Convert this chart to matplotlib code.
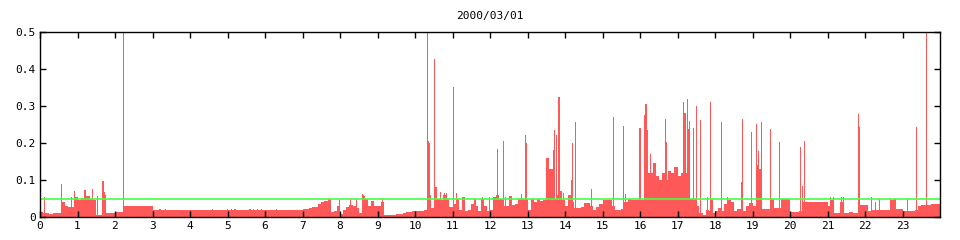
import numpy as np
import matplotlib
matplotlib.use('Agg')
import matplotlib.pyplot as plt

# 5-minute averages, 12 values per hour
hourly_bins = [
    [0.0135, 0.012, 0.012, 0.009, 0.010, 0.011, 0.011, 0.040, 0.030, 0.026, 0.026, 0.055],  # 0
    [0.045, 0.052, 0.058, 0.058, 0.050, 0.045, 0.006, 0.006, 0.060, 0.011, 0.011, 0.011],  # 1
    [0.0135, 0.0135, 0.0135, 0.030, 0.030, 0.030, 0.030, 0.030, 0.030, 0.030, 0.030, 0.030],  # 2
    [0.019] * 12,  # 3
    [0.019] * 12,  # 4
    [0.019] * 12,  # 5
    [0.019] * 12,  # 6
    [0.0216, 0.022, 0.024, 0.028, 0.028, 0.034, 0.040, 0.042, 0.048, 0.0135, 0.016, 0.030],  # 7
    [0.009, 0.020, 0.026, 0.032, 0.030, 0.025, 0.010, 0.058, 0.050, 0.030, 0.044, 0.030],  # 8
    [0.030, 0.040, 0.005, 0.005, 0.005, 0.005, 0.008, 0.008, 0.011, 0.0135, 0.0135, 0.015],  # 9
    [0.016, 0.016, 0.017, 0.018, 0.012, 0.025, 0.050, 0.050, 0.045, 0.060, 0.050, 0.028],  # 10
    [0.035, 0.050, 0.020, 0.053, 0.015, 0.019, 0.035, 0.030, 0.015, 0.050, 0.030, 0.015],  # 11
    [0.019, 0.055, 0.060, 0.050, 0.030, 0.030, 0.057, 0.032, 0.035, 0.050, 0.050, 0.050],  # 12
    [0.019, 0.050, 0.040, 0.050, 0.043, 0.046, 0.160, 0.130, 0.050, 0.060, 0.070, 0.045],  # 13
    [0.030, 0.060, 0.040, 0.023, 0.025, 0.028, 0.038, 0.039, 0.030, 0.020, 0.028, 0.035],  # 14
    [0.045, 0.046, 0.046, 0.030, 0.019, 0.020, 0.022, 0.040, 0.050, 0.046, 0.046, 0.046],  # 15
    [0.046, 0.046, 0.120, 0.120, 0.146, 0.110, 0.100, 0.120, 0.100, 0.125, 0.120, 0.135],  # 16
    [0.110, 0.120, 0.120, 0.120, 0.050, 0.050, 0.030, 0.010, 0.006, 0.020, 0.015, 0.010],  # 17
    [0.015, 0.025, 0.015, 0.035, 0.045, 0.040, 0.017, 0.021, 0.022, 0.016, 0.030, 0.037],  # 18
    [0.030, 0.140, 0.130, 0.022, 0.022, 0.022, 0.049, 0.023, 0.023, 0.050, 0.049, 0.049],  # 19
    [0.0135, 0.0135, 0.0135, 0.015, 0.040, 0.040, 0.040, 0.040, 0.040, 0.040, 0.040, 0.040],  # 20
    [0.030, 0.046, 0.011, 0.011, 0.040, 0.011, 0.011, 0.0135, 0.011, 0.011, 0.032, 0.032],  # 21
    [0.032, 0.016, 0.019, 0.019, 0.019, 0.019, 0.019, 0.019, 0.046, 0.046, 0.022, 0.022],  # 22
    [0.016, 0.016, 0.016, 0.016, 0.020, 0.030, 0.032, 0.032, 0.032, 0.034, 0.036, 0.036],  # 23
]

# short peaks (hour, value)
spike_hours = [
    0.12, 0.573, 0.845, 0.91, 1.2, 1.4, 1.53, 1.68, 1.72, 2.22,
    3.2, 3.35, 4.6, 5.0, 5.1, 5.2, 5.6, 5.7, 5.8, 5.9, 6.3,
    7.69, 7.98, 8.27, 8.45, 8.59, 8.63, 9.13,
    10.33, 10.355, 10.38, 10.4, 10.53, 10.56, 10.68, 10.78, 10.83,
    11.02, 11.1, 11.6, 11.8, 11.98,
    12.19, 12.36, 12.42, 12.85, 12.95, 12.975,
    13.7, 13.73, 13.78, 13.84, 13.97,
    14.18, 14.2, 14.28, 14.7,
    15.29, 15.56, 15.62,
    16.0, 16.13, 16.16, 16.19, 16.28, 16.68, 16.71,
    17.17, 17.2, 17.26, 17.29, 17.32, 17.42, 17.5, 17.62, 17.81, 17.89, 17.92,
    18.17, 18.33, 18.71, 18.73, 18.97,
    19.11, 19.15, 19.23, 19.48, 19.72,
    20.28, 20.33, 20.38,
    21.07, 21.17, 21.38, 21.42, 21.82, 21.85,
    22.17, 22.28, 22.38, 22.68, 22.8,
    23.13, 23.37, 23.64,
]
spike_values = [
    0.054, 0.090, 0.053, 0.070, 0.072, 0.075, 0.058, 0.098, 0.068, 0.600,
    0.0215, 0.0215, 0.0215, 0.0215, 0.0215, 0.0215, 0.0215, 0.0215, 0.0215, 0.0215, 0.0215,
    0.050, 0.047, 0.050, 0.050, 0.063, 0.060, 0.050,
    0.600, 0.205, 0.200, 0.060, 0.427, 0.082, 0.068, 0.066, 0.066,
    0.352, 0.066, 0.048, 0.055, 0.055,
    0.184, 0.205, 0.055, 0.062, 0.222, 0.200,
    0.181, 0.235, 0.222, 0.324, 0.064,
    0.100, 0.200, 0.256, 0.076,
    0.270, 0.246, 0.062,
    0.241, 0.277, 0.305, 0.235, 0.170, 0.265, 0.204,
    0.312, 0.280, 0.319, 0.238, 0.260, 0.241, 0.300, 0.262, 0.055, 0.312, 0.050,
    0.257, 0.055, 0.095, 0.265, 0.229,
    0.251, 0.178, 0.257, 0.238, 0.202,
    0.190, 0.085, 0.205,
    0.055, 0.055, 0.053, 0.053, 0.278, 0.243,
    0.055, 0.041, 0.049, 0.052, 0.050,
    0.049, 0.243, 0.600,
]

threshold = 0.05
title = '2000/03/01'

bar_color = '#ff5858'
line_color = '#44ff44'

values = np.concatenate([np.array(h) for h in hourly_bins])
starts = np.arange(len(values)) / 12.0

fig = plt.figure(figsize=(9.6, 2.4), dpi=100)
ax = fig.add_axes([40 / 960, 23 / 240, 900 / 960, 185 / 240])

ax.bar(starts, values, width=1 / 12, align='edge', color=bar_color, linewidth=0, antialiased=False)
ax.bar(spike_hours, spike_values, width=0.03, align='center', color=bar_color, linewidth=0, antialiased=False)
ax.axhline(threshold, color=line_color, linewidth=1.2)

ax.set_xlim(0, 24)
ax.set_ylim(0, 0.5)
ax.set_xticks(range(24))
ax.set_xticklabels([str(h) for h in range(24)])
ax.set_yticks([0, 0.1, 0.2, 0.3, 0.4, 0.5])
ax.set_yticklabels(['0', '0.1', '0.2', '0.3', '0.4', '0.5'])
ax.tick_params(direction='in', length=4, width=1, top=True, right=True,
               labelsize=8, colors='black', pad=3)
for lab in ax.get_xticklabels() + ax.get_yticklabels():
    lab.set_family('DejaVu Sans Mono')
for s in ax.spines.values():
    s.set_linewidth(1)
    s.set_color('black')

fig.text(490 / 960, 1 - 16 / 240, title, ha='center', va='center',
         fontsize=8, family='DejaVu Sans Mono')

fig.savefig('out.png', dpi=100)
